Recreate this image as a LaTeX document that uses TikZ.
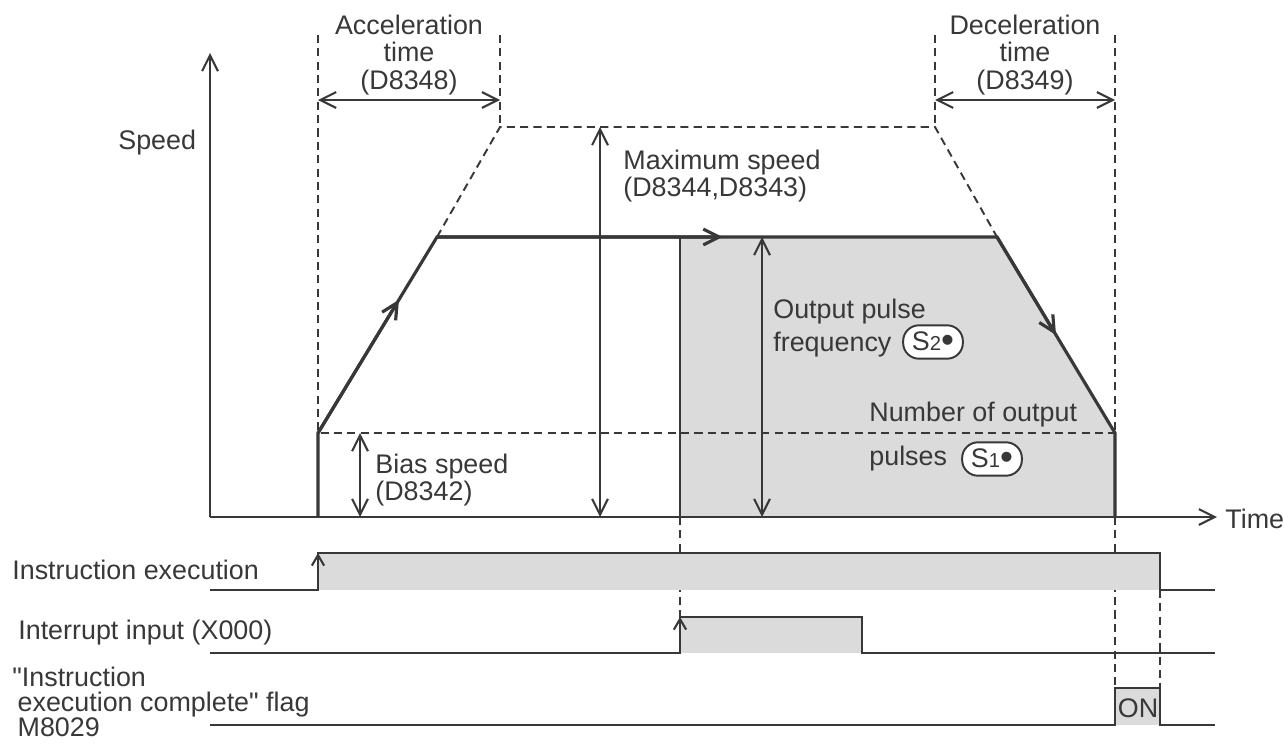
\documentclass[tikz,border=0pt]{standalone}
\usepackage{fontspec}
\setmainfont{Liberation Sans}
\usepackage{tikz}
\usetikzlibrary{arrows.meta,calc}
\definecolor{inkgray}{gray}{0.22}
\definecolor{lightfill}{gray}{0.86}
\newcommand{\lblfont}{\fontsize{15.3}{15.6}\selectfont}
\newcommand{\subfont}{\fontsize{11.5}{11.5}\selectfont}
\newcommand{\dotfont}{\fontsize{21}{21}\selectfont}
\tikzset{
  ink/.style={draw=inkgray, line width=1.2pt},
  guide/.style={draw=inkgray, line width=1.1pt, dash pattern=on 4.6pt off 3pt},
  profile/.style={draw=inkgray, line width=1.8pt},
  barb/.style={-{Straight Barb[length=9pt,width=9pt]}},
  dim/.style={ink, {Straight Barb[length=9pt,width=9pt]}-{Straight Barb[length=9pt,width=9pt]}},
  lbl/.style={text=inkgray, inner sep=0pt, font=\lblfont},
  badge/.style={draw=inkgray, line width=1.1pt, rounded corners=9pt, fill=white,
    text=inkgray, font=\lblfont, minimum height=19pt, minimum width=34pt, inner xsep=4pt, inner ysep=1pt},
}
\begin{document}
\begin{tikzpicture}[x=0.02cm,y=-0.02cm]
          \useasboundingbox (0,0) rectangle (1284,744);
          % key points of the speed profile
          \coordinate (O) at (210,517);
          \coordinate (start) at (318,517);
          \coordinate (bias) at (318,433);
          \coordinate (topL) at (437,237);
          \coordinate (irq) at (680,237);
          \coordinate (topR) at (997,237);
          \coordinate (endB) at (1115,433);
          \coordinate (stop) at (1115,517);
          \coordinate (maxL) at (500,127);
          \coordinate (maxR) at (935,127);
          % shaded area after the interrupt
          \fill[lightfill] (irq) -- (topR) -- (endB) -- (stop) -- (680,517) -- cycle;
          % dashed guides
          \draw[guide] (318,35) -- (bias) -- (endB);
          \draw[guide] (topL) -- (maxL) -- (maxR) -- (topR);
          \draw[guide] (500,35) -- (maxL);
          \draw[guide] (935,35) -- (maxR);
          \draw[guide] (1115,35) -- (endB);
          \draw[guide] (stop) -- (1115,688);
          \draw[guide] (680,517) -- (680,617);
          \draw[guide] (1160,590) -- (1160,688);
          % axes
          \draw[ink,barb] (O) -- (210,53);
          \draw[ink,barb] (O) -- (1217,517);
          \node[lbl,anchor=west] (speed) at (118,143) {Speed};
          \node[lbl,anchor=west] (time) at (1225,519) {Time};
          % speed profile
          \draw[ink] (irq) -- (680,517);
          \draw[profile] (start) -- (bias) -- (topL) -- (topR) -- (endB) -- (stop);
          \draw[profile,barb] (bias) -- ($(bias)!0.68!(topL)$);
          \draw[profile,barb] (topL) -- ($(topL)!0.51!(topR)$);
          \draw[profile,barb] (topR) -- ($(topR)!0.5!(endB)$);
          % dimension arrows
          \draw[dim] (318,100) -- (500,100);
          \draw[dim] (935,100) -- (1115,100);
          \draw[dim] (600,127) -- (600,517);
          \draw[dim] (762,237) -- (762,517);
          \draw[dim] (360,433) -- (360,517);
          % labels
          \node[lbl,align=center] (acc) at (409,55) {Acceleration\\time\\(D8348)};
          \node[lbl,align=center] (dec) at (1025,55) {Deceleration\\time\\(D8349)};
          \node[lbl,align=left,anchor=west] (maxsp) at (623,176) {Maximum speed\\(D8344,D8343)};
          \node[lbl,align=left,anchor=west] (biassp) at (375,480) {Bias speed\\(D8342)};
          \node[lbl,anchor=west] (outp) at (773,312) {Output pulse};
          \node[lbl,anchor=west] (freq) at (773,345) {frequency};
          \node[badge] (s2) at (933,342) {S{\subfont 2}\raisebox{-0.8pt}{\dotfont •}};
          \node[lbl,anchor=west] (numout) at (869,415) {Number of output};
          \node[lbl,anchor=west] (pulses) at (869,459) {pulses};
          \node[badge] (s1) at (992,459) {S{\subfont 1}\raisebox{-0.8pt}{\dotfont •}};
          % instruction execution
          \fill[lightfill] (318,553) rectangle (1160,590);
          \draw[ink] (210,590) -- (318,590) -- (318,553) -- (1160,553) -- (1160,590) -- (1215,590);
          \draw[ink,-{Straight Barb[length=6pt,width=7pt]}] (318,580) -- (318,553);
          \node[lbl,anchor=west] (instr) at (12,570) {Instruction execution};
          % interrupt input
          \fill[lightfill] (680,617) rectangle (862,653);
          \draw[ink] (210,653) -- (680,653) -- (680,617) -- (862,617) -- (862,653) -- (1215,653);
          \draw[ink,-{Straight Barb[length=6pt,width=7pt]}] (680,643) -- (680,617);
          \node[lbl,anchor=west] (intin) at (18,633) {Interrupt input (X000)};
          % complete flag
          \fill[lightfill] (1115,688) rectangle (1160,725);
          \draw[ink] (210,725) -- (1115,725) -- (1115,688) -- (1160,688) -- (1160,725) -- (1215,725);
          \node[lbl] (on) at (1138,708) {ON};
          \node[lbl,align=left,anchor=west,font=\fontsize{15.3}{14.4}\selectfont] (flag) at (12,702)
            {\textquotedbl Instruction\\\hspace*{3pt}execution complete\textquotedbl{} flag\\\hspace*{3pt}M8029};
\end{tikzpicture}
\end{document}
